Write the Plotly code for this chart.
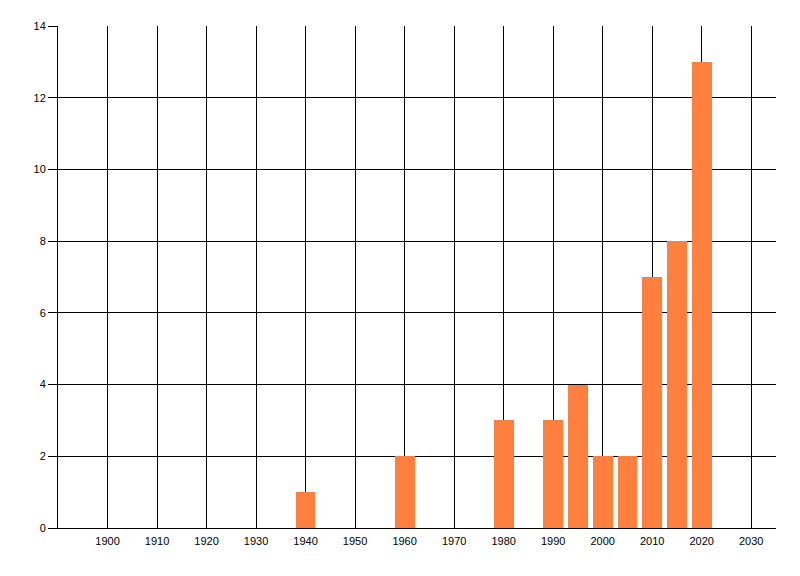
import plotly.graph_objects as go

# data
years = [1940, 1960, 1980, 1990, 1995, 2000, 2005, 2010, 2015, 2020]
counts = [1, 2, 3, 3, 4, 2, 2, 7, 8, 13]
x_ticks = [1900, 1910, 1920, 1930, 1940, 1950, 1960, 1970, 1980, 1990, 2000, 2010, 2020, 2030]
y_ticks = [0, 2, 4, 6, 8, 10, 12, 14]

BAR_COLOR = '#FF7F3F'
FONT = dict(family='Liberation Sans, Arial, sans-serif', size=11, color='black')

fig = go.Figure()
fig.add_trace(go.Bar(
    x=years, y=counts,
    width=4,
    marker=dict(color=BAR_COLOR, line=dict(width=0)),
))

# the page body adds an 8px offset, so margins are trimmed to compensate
fig.update_layout(
    width=800, height=576,
    margin=dict(l=50, r=32, t=18, b=56, autoexpand=False),
    paper_bgcolor='white', plot_bgcolor='white',
    font=FONT,
    showlegend=False,
    bargap=0,
)
fig.update_xaxes(
    range=[1890, 2035],
    tickvals=x_ticks,
    ticks='', ticklabelstandoff=3,
    showgrid=True, gridcolor='black', gridwidth=1,
    showline=True, linecolor='black', linewidth=1,
    zeroline=False, automargin=False,
    tickfont=FONT,
)
fig.update_yaxes(
    range=[0, 14],
    tickvals=y_ticks,
    ticks='outside', ticklen=9, tickcolor='black', tickwidth=1,
    showgrid=True, gridcolor='black', gridwidth=1,
    showline=True, linecolor='black', linewidth=1,
    zeroline=False, automargin=False,
    tickfont=FONT,
)

fig.write_html("out.html")
